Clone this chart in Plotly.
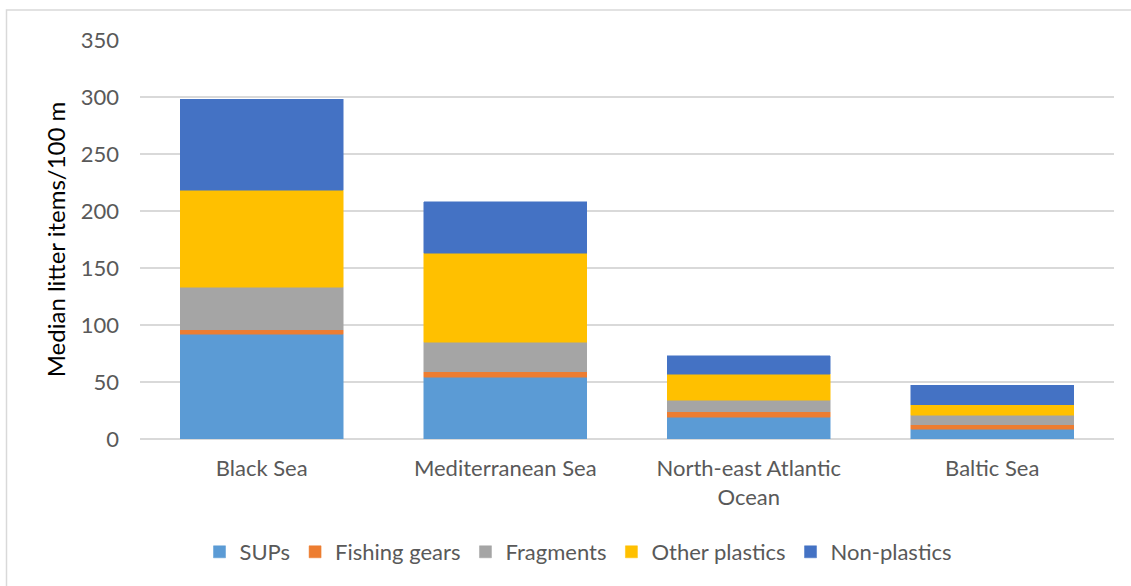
import plotly.graph_objects as go

categories = ["Black Sea", "Mediterranean Sea", "North-east Atlantic<br>Ocean", "Baltic Sea"]
sups = [92, 54, 19, 8.5]
fishing_gears = [4, 5, 5, 4]
fragments = [37, 26, 10, 8.5]
other_plastics = [85, 78, 23, 9]
non_plastics = [80, 45, 16, 17]
y_ticks = [0, 50, 100, 150, 200, 250, 300, 350]

series = [
    ("SUPs", sups, "#5b9bd5"),
    ("Fishing gears", fishing_gears, "#ed7d31"),
    ("Fragments", fragments, "#a5a5a5"),
    ("Other plastics", other_plastics, "#ffc000"),
    ("Non-plastics", non_plastics, "#4472c4"),
]

fig = go.Figure()
for name, vals, col in series:
    fig.add_trace(go.Bar(
        x=categories, y=vals, name=name,
        marker=dict(color=col, line=dict(color=col, width=0.5)),
    ))

W, H = 1131, 586
L, R, T, B = 140, 17, 40, 147
pw, ph = W - L - R, H - T - B

def px(x):
    return (x - L) / pw

def py(y):
    return (H - B - y) / ph

fig.update_layout(
    barmode="stack",
    bargap=0.33,
    width=W, height=H,
    margin=dict(l=L, r=R, t=T, b=B),
    paper_bgcolor="white",
    plot_bgcolor="white",
    font=dict(family="Lato, Carlito, Calibri, sans-serif", size=22, color="#595959"),
    xaxis=dict(showgrid=False, showline=False, ticks="", ticklabelstandoff=14,
               tickfont=dict(size=22, color="#595959")),
    yaxis=dict(
        range=[0, 350], tickvals=y_ticks, showgrid=True, gridcolor="#d9d9d9", gridwidth=1.5,
        zeroline=True, zerolinecolor="#d9d9d9", zerolinewidth=1.5,
        ticks="", ticklabelstandoff=20, tickfont=dict(size=22, color="#595959"),
        title=dict(text="Median litter items/100 m", font=dict(size=24, color="#000000"), standoff=8),
    ),
    legend=dict(
        orientation="h", x=px(578), xanchor="center", y=py(552), yanchor="middle",
        font=dict(size=22, color="#595959"), traceorder="normal", itemwidth=30,
    ),
    showlegend=True,
    shapes=[dict(
        type="rect", xref="paper", yref="paper",
        x0=px(6.5), x1=px(1150), y0=py(600), y1=py(10),
        line=dict(color="#d9d9d9", width=1.5), fillcolor="rgba(0,0,0,0)", layer="below",
    )],
)

fig.write_html("out.html")
